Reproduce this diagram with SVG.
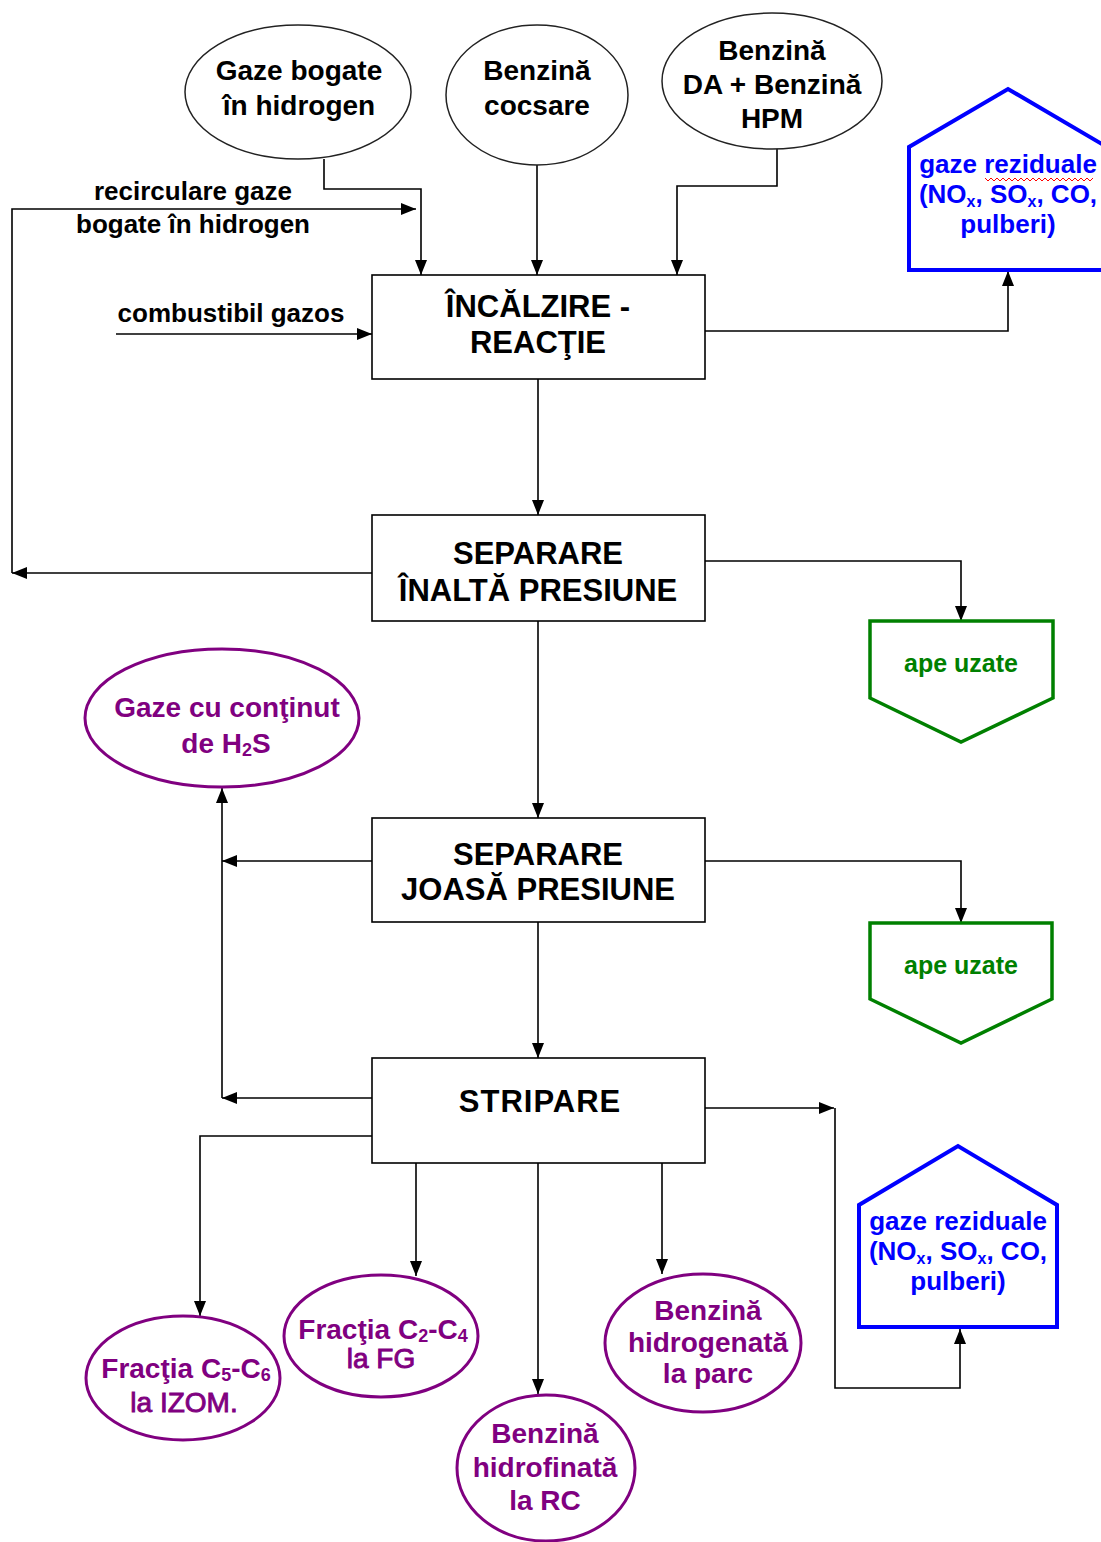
<svg xmlns="http://www.w3.org/2000/svg" width="1101" height="1542" viewBox="0 0 1101 1542">
<defs>
<marker id="ah" markerUnits="userSpaceOnUse" markerWidth="15" markerHeight="12" viewBox="0 0 15 12" refX="15" refY="6" orient="auto">
<path d="M0,0 L15,6 L0,12 z" fill="#000"/>
</marker>
<style>
text{font-family:"Liberation Sans",Arial,sans-serif;font-weight:bold;text-anchor:middle}
.in{fill:#fff;stroke:#222;stroke-width:1.5}
.box{fill:#fff;stroke:#000;stroke-width:1.6}
.bt{font-size:31px;fill:#000}
.et{font-size:28px;fill:#000}
.pe{fill:#fff;stroke:#800080;stroke-width:3}
.pt{font-size:28px;fill:#800080}
.pn{font-weight:normal;stroke:#800080;stroke-width:0.9}
.gp{fill:#fff;stroke:#008000;stroke-width:3.5}
.gt{font-size:25px;fill:#008000}
.bp{fill:#fff;stroke:#0000ff;stroke-width:4}
.blt{font-size:26px;fill:#0000ff}
.lbl{font-size:26px;fill:#000}
.c{fill:none;stroke:#000;stroke-width:1.6}
.a{marker-end:url(#ah)}
</style>
</defs>
<rect width="1101" height="1542" fill="#fff"/>

<g id="connectors">
<path class="c a" d="M324,159 V189 H421 V275"/>
<path class="c a" d="M537,165 V275"/>
<path class="c a" d="M777,148 V186 H677 V275"/>
<path class="c a" d="M12,573 V209 H416"/>
<path class="c a" d="M116,334 H372"/>
<path class="c a" d="M705,331 H1008 V271"/>
<path class="c a" d="M538,379 V515"/>
<path class="c a" d="M372,573 H12"/>
<path class="c a" d="M705,561 H961 V621"/>
<path class="c a" d="M538,621 V818"/>
<path class="c a" d="M705,861 H961 V923"/>
<path class="c a" d="M372,861 H222"/>
<path class="c a" d="M222,1098 V788"/>
<path class="c a" d="M538,922 V1058"/>
<path class="c a" d="M372,1098 H222"/>
<path class="c a" d="M372,1136 H200 V1316"/>
<path class="c a" d="M416,1163 V1276"/>
<path class="c a" d="M538,1163 V1394"/>
<path class="c a" d="M662,1163 V1274"/>
<path class="c a" d="M705,1108 H834"/>
<path class="c a" d="M835,1108 V1388 H960 V1329"/>
</g>

<g id="lbl-recirc">
<text class="lbl" x="193" y="200">recirculare gaze</text>
<text class="lbl" x="193" y="233">bogate în hidrogen</text>
</g>
<g id="lbl-comb">
<text class="lbl" x="231" y="322">combustibil gazos</text>
</g>

<g id="in-gaze">
<ellipse class="in" cx="298" cy="92" rx="113" ry="67"/>
<text class="et" x="299" y="80">Gaze bogate</text>
<text class="et" x="299" y="115">în hidrogen</text>
</g>
<g id="in-cocsare">
<ellipse class="in" cx="537" cy="95" rx="91" ry="70"/>
<text class="et" x="537" y="80">Benzină</text>
<text class="et" x="537" y="115">cocsare</text>
</g>
<g id="in-da">
<ellipse class="in" cx="772" cy="81" rx="110" ry="68"/>
<text class="et" x="772" y="60">Benzină</text>
<text class="et" x="772" y="94">DA + Benzină</text>
<text class="et" x="772" y="128">HPM</text>
</g>

<g id="box-incalzire">
<rect class="box" x="372" y="275" width="333" height="104"/>
<text class="bt" x="538" y="317">ÎNCĂLZIRE -</text>
<text class="bt" x="538" y="353">REACŢIE</text>
</g>
<g id="box-sip">
<rect class="box" x="372" y="515" width="333" height="106"/>
<text class="bt" x="538" y="564">SEPARARE</text>
<text class="bt" x="538" y="601">ÎNALTĂ PRESIUNE</text>
</g>
<g id="box-sjp">
<rect class="box" x="372" y="818" width="333" height="104"/>
<text class="bt" x="538" y="865">SEPARARE</text>
<text class="bt" x="538" y="900">JOASĂ PRESIUNE</text>
</g>
<g id="box-stripare">
<rect class="box" x="372" y="1058" width="333" height="105"/>
<text class="bt" x="540" y="1112" letter-spacing="1">STRIPARE</text>
</g>

<g id="out-gaze1">
<path class="bp" d="M909,270 V147 L1008,89 L1107,147 V270 Z"/>
<text class="blt" x="1008" y="173">gaze reziduale</text>
<text class="blt" x="1008" y="203">(NO<tspan font-size="16" dy="4">x</tspan><tspan dy="-4">, SO</tspan><tspan font-size="16" dy="4">x</tspan><tspan dy="-4">, CO,</tspan></text>
<text class="blt" x="1008" y="233">pulberi)</text>
<path d="M985,178 l3,3 l3,-3 l3,3 l3,-3 l3,3 l3,-3 l3,3 l3,-3 l3,3 l3,-3 l3,3 l3,-3 l3,3 l3,-3 l3,3 l3,-3 l3,3 l3,-3 l3,3 l3,-3 l3,3 l3,-3 l3,3 l3,-3 l3,3 l3,-3 l3,3 l3,-3 l3,3 l3,-3 l3,3 l3,-3 l3,3 l3,-3 l3,3 l3,-3" fill="none" stroke="#ff0000" stroke-width="1"/>
</g>

<g id="out-ape1">
<path class="gp" d="M870,621 H1053 V698 L961,742 L870,698 Z"/>
<text class="gt" x="961" y="672">ape uzate</text>
</g>
<g id="out-ape2">
<path class="gp" d="M870,923 H1052 V999 L961,1043 L870,999 Z"/>
<text class="gt" x="961" y="974">ape uzate</text>
</g>

<g id="out-h2s">
<ellipse class="pe" cx="222" cy="718" rx="137" ry="69"/>
<text class="pt" x="227" y="717">Gaze cu conţinut</text>
<text class="pt" x="226" y="753">de H<tspan font-size="18" dy="3">2</tspan><tspan dy="-3">S</tspan></text>
</g>

<g id="out-c5c6">
<ellipse class="pe" cx="183" cy="1378" rx="97" ry="62"/>
<text class="pt" x="186" y="1378">Fracţia C<tspan font-size="18" dy="3">5</tspan><tspan dy="-3">-C</tspan><tspan font-size="18" dy="3">6</tspan></text>
<text class="pt pn" x="184" y="1412">la IZOM.</text>
</g>
<g id="out-c2c4">
<ellipse class="pe" cx="381" cy="1336" rx="97" ry="61"/>
<text class="pt" x="383" y="1339">Fracţia C<tspan font-size="18" dy="3">2</tspan><tspan dy="-3">-C</tspan><tspan font-size="18" dy="3">4</tspan></text>
<text class="pt pn" x="381" y="1368">la FG</text>
</g>
<g id="out-rc">
<ellipse class="pe" cx="546" cy="1468" rx="89" ry="73"/>
<text class="pt" x="545" y="1443">Benzină</text>
<text class="pt" x="545" y="1477">hidrofinată</text>
<text class="pt" x="545" y="1510">la RC</text>
</g>
<g id="out-parc">
<ellipse class="pe" cx="703" cy="1343" rx="98" ry="69"/>
<text class="pt" x="708" y="1320">Benzină</text>
<text class="pt" x="708" y="1352">hidrogenată</text>
<text class="pt" x="708" y="1383">la parc</text>
</g>

<g id="out-gaze2">
<path class="bp" d="M859,1327 V1205 L958,1146 L1057,1205 V1327 Z"/>
<text class="blt" x="958" y="1230">gaze reziduale</text>
<text class="blt" x="958" y="1260">(NO<tspan font-size="16" dy="4">x</tspan><tspan dy="-4">, SO</tspan><tspan font-size="16" dy="4">x</tspan><tspan dy="-4">, CO,</tspan></text>
<text class="blt" x="958" y="1290">pulberi)</text>
</g>
</svg>
